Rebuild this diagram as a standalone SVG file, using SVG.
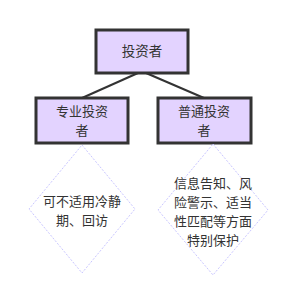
<svg xmlns="http://www.w3.org/2000/svg" width="296" height="295" viewBox="0 0 296 295">
<style>
.box{fill:#e3d3ff;stroke:#333;stroke-width:3}
.dia{fill:none;stroke:#c9c6ff;stroke-width:1;stroke-dasharray:2,1.5}
.edge{stroke:#333;stroke-width:2;fill:none}
text{font-family:"Noto Sans CJK SC","Noto Sans",sans-serif;font-size:13px;fill:#333;text-anchor:middle}
</style>
<rect width="296" height="295" fill="#fff"/>
<g id="edges">
<line class="edge" x1="138" y1="73" x2="82" y2="98"/>
<line class="edge" x1="146" y1="73" x2="204" y2="98"/>
</g>
<g id="n0">
<rect class="box" x="96" y="30" width="92" height="43"/>
<text x="142" y="56" style="font-size:13.5px">投资者</text>
</g>
<g id="n1">
<rect class="box" x="36" y="98" width="92" height="45"/>
<text x="82" y="116">专业投资<tspan x="82" dy="19">者</tspan></text>
</g>
<g id="n2">
<rect class="box" x="158" y="98" width="93" height="45"/>
<text x="204" y="116">普通投资<tspan x="204" dy="19">者</tspan></text>
</g>
<g id="n3">
<polygon class="dia" points="82,145 135,209 82,273 29,209"/>
<text x="82" y="206">可不适用冷静<tspan x="82" dy="19">期、回访</tspan></text>
</g>
<g id="n4">
<polygon class="dia" points="213,144 268,210 213,275 158,210"/>
<text x="213" y="188">信息告知、风<tspan x="213" dy="19">险警示、适当</tspan><tspan x="213" dy="19">性匹配等方面</tspan><tspan x="213" dy="19">特别保护</tspan></text>
</g>
</svg>
